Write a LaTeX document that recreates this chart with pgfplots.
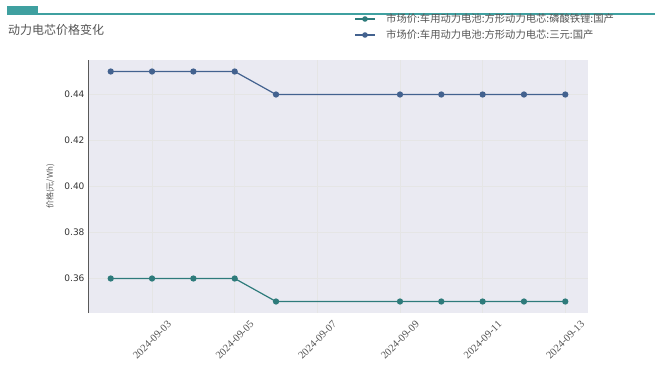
\documentclass[border=0pt]{standalone}
\usepackage{pgfplots}
\pgfplotsset{compat=1.18}
\usepackage{fontspec}
\setmainfont{DejaVu Sans}
\newfontfamily\cjk{Noto Sans CJK SC}
\newfontfamily\serifcjk{Liberation Serif}
\definecolor{teal1}{HTML}{2E7B7B}
\definecolor{blue1}{HTML}{43628F}
\definecolor{banner}{HTML}{3FA0A0}
\definecolor{bgc}{HTML}{EAEAF2}
\definecolor{txt}{HTML}{555555}
\begin{document}
\begin{tikzpicture}
\path[use as bounding box] (0pt,0pt) rectangle (660pt,-369pt);
\fill[banner] (7pt,-6pt) rectangle (38pt,-15.5pt);
\draw[banner, line width=2pt] (38pt,-14.5pt) -- (655pt,-14.5pt);
\node[anchor=west, text=txt, font=\cjk\fontsize{12}{14}\selectfont, inner sep=0pt] at (8pt,-30pt) {动力电芯价格变化};
% legend
\draw[teal1, line width=1.3pt] (355pt,-19pt) -- (375pt,-19pt);
\fill[teal1] (365pt,-19pt) circle (2.8pt);
\node[anchor=west, text=txt, font=\cjk\fontsize{10.3}{12}\selectfont, inner sep=0pt] at (386pt,-19pt) {市场价:车用动力电池:方形动力电芯:磷酸铁锂:国产};
\draw[blue1, line width=1.3pt] (355pt,-35pt) -- (375pt,-35pt);
\fill[blue1] (365pt,-35pt) circle (2.8pt);
\node[anchor=west, text=txt, font=\cjk\fontsize{10.3}{12}\selectfont, inner sep=0pt] at (386pt,-35pt) {市场价:车用动力电池:方形动力电芯:三元:国产};
\begin{axis}[
  at={(88pt,-313pt)}, anchor=south west,
  width=500pt, height=253pt, scale only axis,
  xmin=1.45, xmax=13.55, ymin=0.345, ymax=0.455,
  axis background/.style={fill=bgc},
  axis line style={draw=none},
  axis y line*=left,
  y axis line style={draw=black!65, line width=0.8pt},
  xtick={3,5,7,9,11,13},
  xticklabels={2024-09-03,2024-09-05,2024-09-07,2024-09-09,2024-09-11,2024-09-13},
  xticklabel style={yshift=-27pt, rotate=45, anchor=center, font=\serifcjk\fontsize{10.5}{11}\selectfont, text=txt},
  ytick={0.36,0.38,0.40,0.42,0.44},
  yticklabel style={font=\fontsize{9}{10}\selectfont, text=black!80,
    /pgf/number format/.cd, fixed, fixed zerofill, precision=2},
  /pgf/number format/assume math mode=true,
  ylabel={价格(元/Wh)},
  ylabel style={font=\cjk\fontsize{8}{9}\selectfont, text=txt},
  ylabel shift=3pt,
  major tick length=0pt,
  grid=major,
  major grid style={draw=black!10, line width=0.5pt},
]
\addplot[teal1, line width=1.2pt, mark=*, mark size=2.5pt, mark options={fill=teal1, draw=teal1}] coordinates {
(2,0.36) (3,0.36) (4,0.36) (5,0.36) (6,0.35) (9,0.35) (10,0.35) (11,0.35) (12,0.35) (13,0.35)};
\addplot[blue1, line width=1.2pt, mark=*, mark size=2.5pt, mark options={fill=blue1, draw=blue1}] coordinates {
(2,0.45) (3,0.45) (4,0.45) (5,0.45) (6,0.44) (9,0.44) (10,0.44) (11,0.44) (12,0.44) (13,0.44)};
\end{axis}
\end{tikzpicture}
\end{document}
